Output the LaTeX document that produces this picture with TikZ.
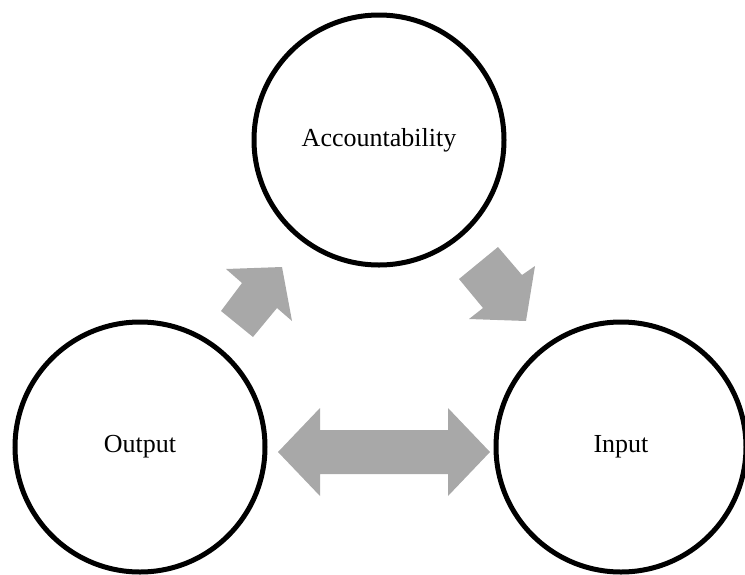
\documentclass[tikz,border=0pt]{standalone}
\usepackage{fontspec}
\setmainfont{Liberation Serif}
\begin{document}
\begin{tikzpicture}[x=1pt,y=-1pt,
  stage/.style={circle,draw=black,line width=5pt,minimum size=250pt,inner sep=0pt,
                font=\fontsize{26}{30}\selectfont},
  blockarrow/.style={fill=black!34,draw=none}]
  \useasboundingbox (0,0) rectangle (745,574);
  \clip (0,0) rectangle (745,574);

  % the three stages of the cycle
  \node[stage] (acc) at (379,140) {Accountability};
  \node[stage] (out) at (140,447) {Output};
  \node[stage] (inp) at (621,447) {Input};

  % output feeds accountability
  \fill[blockarrow] (221,311) -- (242,283) -- (226,269) -- (282,267)
        -- (292,321) -- (277,308) -- (253,337) -- cycle;
  % accountability feeds input
  \fill[blockarrow] (459,279) -- (498,247) -- (522,275) -- (535,266)
        -- (526,321) -- (469,319) -- (483,308) -- cycle;
  % two-way exchange between output and input
  \fill[blockarrow] (278,452) -- (320,408) -- (320,430) -- (448,430)
        -- (448,408) -- (490,452) -- (448,496) -- (448,474)
        -- (320,474) -- (320,496) -- cycle;
\end{tikzpicture}
\end{document}
